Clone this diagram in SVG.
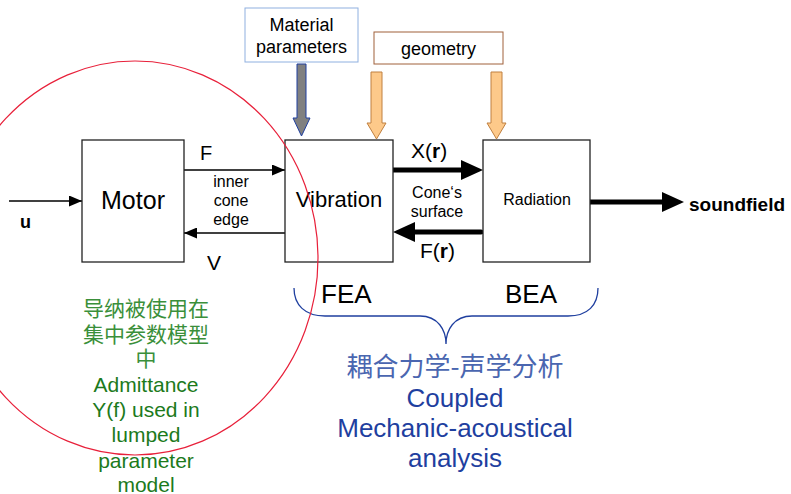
<svg xmlns="http://www.w3.org/2000/svg" width="791" height="494" viewBox="0 0 791 494">
<style>
text{font-family:"Liberation Sans",Arial,"Noto Sans CJK SC",sans-serif;}
.box{fill:#fff;stroke:#222;stroke-width:1.3;}
.thin{stroke:#000;stroke-width:1.3;fill:none;}
.thick{stroke:#000;stroke-width:5;fill:none;stroke-linecap:round;}
.orange{fill:#fdc98a;stroke:#c08040;stroke-width:1;}
.green1{fill:#3a8f3a;font-family:"Noto Sans CJK SC","Liberation Sans",sans-serif;font-size:21px;}
.green2{fill:#1c7a1c;font-size:21px;}
.blue1{fill:#4a66b0;font-family:"Noto Sans CJK SC","Liberation Sans",sans-serif;font-size:26px;}
.blue2{fill:#1f3f9f;font-size:26px;}
</style>
<defs>
<marker id="ah" markerUnits="userSpaceOnUse" markerWidth="13" markerHeight="11" refX="13" refY="5.5" orient="auto"><path d="M0,0 L13,5.5 L0,11 z" fill="#000"/></marker>
</defs>
<rect width="791" height="494" fill="#fff"/>

<g id="connectors">
<line class="thin" x1="9" y1="201" x2="82" y2="201" marker-end="url(#ah)"/>
<line class="thin" x1="184" y1="170" x2="285" y2="170" marker-end="url(#ah)"/>
<line class="thin" x1="285" y1="233" x2="184" y2="233" marker-end="url(#ah)"/>
<line class="thick" x1="391" y1="170" x2="466" y2="170"/>
<path d="M461,160 L483,170 L461,180 z" fill="#000"/>
<line class="thick" x1="481" y1="232" x2="410" y2="232"/>
<path d="M415,222 L393,232 L415,242 z" fill="#000"/>
<line class="thick" x1="590" y1="202" x2="666" y2="202"/>
<path d="M662,192 L684,202 L662,212 z" fill="#000"/>
<path d="M297,64 L306,64 L306,118 L310,118 L301.5,136 L293,118 L297,118 z" fill="#808080" stroke="#1f3f9f" stroke-width="1"/>
<path class="orange" d="M371,72 L382,72 L382,123 L386,123 L376.5,139 L367,123 L371,123 z"/>
<path class="orange" d="M491,72 L502,72 L502,123 L506,123 L496.5,139 L487,123 L491,123 z"/>
</g>

<g id="motor">
<rect class="box" x="82" y="140" width="102" height="122"/>
<text x="133" y="209" font-size="25" text-anchor="middle">Motor</text>
</g>
<g id="vibration">
<rect class="box" x="285" y="140" width="108" height="122"/>
<text x="339" y="207" font-size="22" text-anchor="middle">Vibration</text>
</g>
<g id="radiation">
<rect class="box" x="483" y="140" width="107" height="122"/>
<text x="537" y="205" font-size="16" text-anchor="middle">Radiation</text>
</g>
<g id="material">
<rect x="245" y="8" width="113" height="54" fill="#fff" stroke="#8fb0e0" stroke-width="1"/>
<text x="301.5" y="31" font-size="18" text-anchor="middle">Material</text>
<text x="301.5" y="53" font-size="18" text-anchor="middle">parameters</text>
</g>
<g id="geometry">
<rect x="374" y="32" width="129" height="32" fill="#fff" stroke="#a0603a" stroke-width="1"/>
<text x="438.5" y="55" font-size="18" text-anchor="middle">geometry</text>
</g>

<g id="labels">
<text x="20" y="228" font-size="18" font-weight="bold">u</text>
<text x="200" y="160" font-size="20">F</text>
<text x="207" y="270" font-size="21">V</text>
<text x="231" y="187" font-size="16" text-anchor="middle">inner</text>
<text x="231" y="206" font-size="16" text-anchor="middle">cone</text>
<text x="231" y="225" font-size="16" text-anchor="middle">edge</text>
<text x="411" y="158" font-size="21">X(<tspan font-weight="bold">r</tspan>)</text>
<text x="437" y="198" font-size="16" text-anchor="middle">Cone‘s</text>
<text x="437" y="217" font-size="16" text-anchor="middle">surface</text>
<text x="420" y="258" font-size="21">F(<tspan font-weight="bold">r</tspan>)</text>
<text x="689" y="211" font-size="19" font-weight="bold">soundfield</text>
<text x="321" y="303" font-size="26">FEA</text>
<text x="505" y="303" font-size="26">BEA</text>
</g>

<g id="brace">
<path d="M294,288 C294,305 305,316 325,316 L420,316 C438,316 446,330 446,344 C446,330 454,316 472,316 L568,316 C588,316 598,305 598,288" fill="none" stroke="#1f3f9f" stroke-width="1.3"/>
</g>

<g id="coupled">
<text class="blue1" x="455" y="376" text-anchor="middle">耦合力学-声学分析</text>
<text class="blue2" x="455" y="407" text-anchor="middle">Coupled</text>
<text class="blue2" x="455" y="437" text-anchor="middle">Mechanic-acoustical</text>
<text class="blue2" x="455" y="467" text-anchor="middle">analysis</text>
</g>

<g id="admittance">
<ellipse cx="135" cy="258" rx="183" ry="197" fill="none" stroke="#e8203a" stroke-width="1.2"/>
<text class="green1" x="146" y="316" text-anchor="middle">导纳被使用在</text>
<text class="green1" x="146" y="342" text-anchor="middle">集中参数模型</text>
<text class="green1" x="146" y="366" text-anchor="middle">中</text>
<text class="green2" x="146" y="392" text-anchor="middle">Admittance</text>
<text class="green2" x="146" y="417" text-anchor="middle">Y(f) used in</text>
<text class="green2" x="146" y="442" text-anchor="middle">lumped</text>
<text class="green2" x="146" y="468" text-anchor="middle">parameter</text>
<text class="green2" x="146" y="492" text-anchor="middle">model</text>
</g>
</svg>
